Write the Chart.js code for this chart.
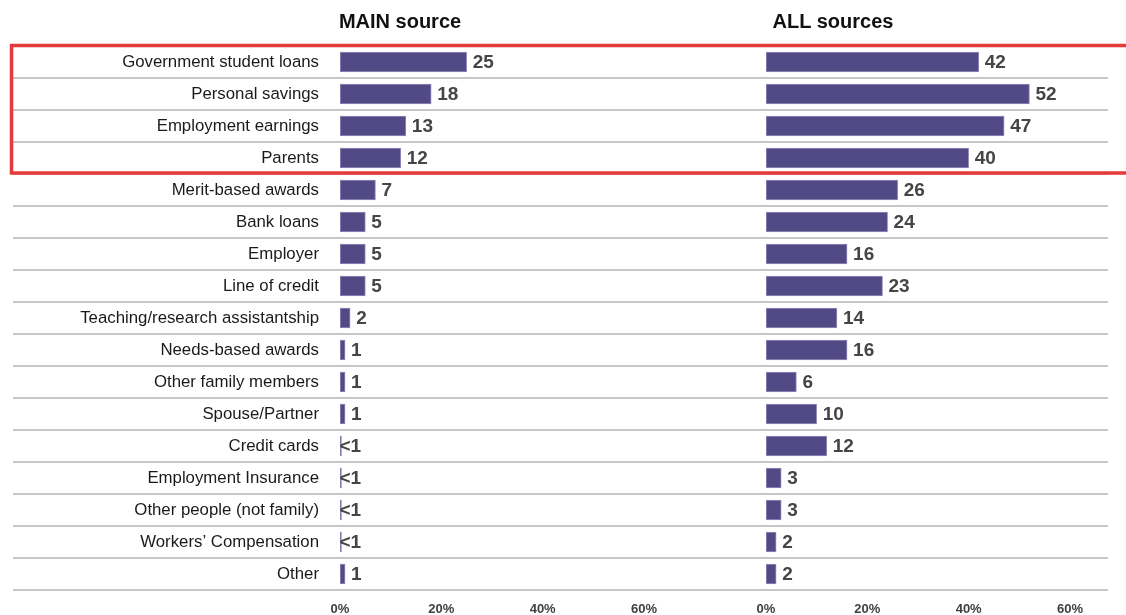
<!DOCTYPE html>
<html>
<head>
<meta charset="utf-8">
<script src="https://cdn.jsdelivr.net/npm/chart.js@4/dist/chart.umd.min.js"></script>
<style>
  html, body { margin: 0; padding: 0; background: #ffffff; }
  #wrap { position: relative; width: 1126px; height: 615px; overflow: hidden; }
  #wrap canvas { position: absolute; left: 0; top: 0; }
  .title {
    position: absolute; top: 8px; width: 240px; margin-left: -120px;
    text-align: center; font: bold 20px "Liberation Sans", Arial, sans-serif;
    color: #111111; line-height: 26px;
  }
</style>
</head>
<body>
<div id="wrap">
  <canvas id="mainChart" width="1126" height="615"></canvas>
  <canvas id="allChart" width="1126" height="615"></canvas>
  <div class="title" style="left:400px">MAIN source</div>
  <div class="title" style="left:833px">ALL sources</div>
</div>
<script>
// Sources of funding, share of respondents (%)
const categories = [
  'Government student loans', 'Personal savings', 'Employment earnings', 'Parents',
  'Merit-based awards', 'Bank loans', 'Employer', 'Line of credit',
  'Teaching/research assistantship', 'Needs-based awards', 'Other family members',
  'Spouse/Partner', 'Credit cards', 'Employment Insurance', 'Other people (not family)',
  'Workers\u2019 Compensation', 'Other'
];
// Printed labels for the main source; "<1" rows are drawn as a sliver
const mainLabels = ['25', '18', '13', '12', '7', '5', '5', '5', '2', '1', '1', '1', '<1', '<1', '<1', '<1', '1'];
const mainValues = [25, 18, 13, 12, 7, 5, 5, 5, 2, 1, 1, 1, 0.3, 0.3, 0.3, 0.3, 1];
const allValues = [42, 52, 47, 40, 26, 24, 16, 23, 14, 16, 6, 10, 12, 3, 3, 2, 2];
const allLabels = allValues.map(String);
const xTicks = [0, 20, 40, 60];
const highlightedRows = 4; // first rows boxed in red

const FONT = '"Liberation Sans", Arial, sans-serif';
const BAR = '#524a86';

// Value labels to the right of each bar
function valueLabels(texts) {
  return {
    id: 'valueLabels',
    afterDatasetsDraw(chart) {
      const ctx = chart.ctx;
      const meta = chart.getDatasetMeta(0);
      ctx.save();
      ctx.font = 'bold 19px ' + FONT;
      ctx.fillStyle = '#454545';
      ctx.textBaseline = 'middle';
      ctx.textAlign = 'left';
      meta.data.forEach((bar, i) => {
        const t = texts[i];
        const gap = t.startsWith('<') ? -2 : 6;
        ctx.fillText(t, bar.x + gap, bar.y + 1);
      });
      ctx.restore();
    }
  };
}

// Row separators across both panels and the highlight box
const rowFrame = {
  id: 'rowFrame',
  beforeDatasetsDraw(chart) {
    const y = chart.scales.y;
    const ctx = chart.ctx;
    ctx.save();
    ctx.strokeStyle = '#c9c6c9';
    ctx.lineWidth = 2;
    for (let i = 0; i <= categories.length; i++) {
      const py = Math.round(y.getPixelForValue(i - 0.5));
      ctx.beginPath();
      ctx.moveTo(13, py);
      ctx.lineTo(1108, py);
      ctx.stroke();
    }
    ctx.restore();
  },
  afterDraw(chart) {
    const y = chart.scales.y;
    const ctx = chart.ctx;
    const top = y.getPixelForValue(-0.5) - 0.5;
    const bottom = y.getPixelForValue(highlightedRows - 0.5) - 1;
    ctx.save();
    ctx.strokeStyle = '#e53a3a';
    ctx.lineWidth = 3.5;
    ctx.strokeRect(11.5, top, 1200, bottom - top);
    ctx.restore();
  }
};

function xScale() {
  return {
    type: 'linear',
    min: 0,
    max: 60,
    afterBuildTicks(scale) { scale.ticks = xTicks.map(v => ({ value: v })); },
    afterFit(scale) { scale.height = 25; scale.paddingLeft = 0; scale.paddingRight = 0; },
    grid: { display: false, drawTicks: false },
    border: { display: false },
    ticks: {
      padding: 12,
      color: '#404040',
      font: { family: FONT, size: 13, weight: 'bold' },
      callback: v => v + '%'
    }
  };
}

function dataset(values) {
  return {
    data: values,
    backgroundColor: BAR,
    borderColor: 'rgba(138,130,178,0.9)',
    borderWidth: 1,
    borderSkipped: false,
    barThickness: 20
  };
}

const common = {
  indexAxis: 'y',
  responsive: false,
  animation: false,
  plugins: { legend: { display: false }, tooltip: { enabled: false } }
};

new Chart(document.getElementById('mainChart'), {
  type: 'bar',
  data: { labels: categories, datasets: [dataset(mainValues)] },
  options: Object.assign({}, common, {
    layout: { padding: { top: 46, left: 0, right: 482, bottom: 0 } },
    scales: {
      x: xScale(),
      y: {
        type: 'category',
        afterFit(scale) { scale.width = 340; scale.paddingTop = 0; scale.paddingBottom = 0; },
        grid: { display: false, drawTicks: false },
        border: { display: false },
        ticks: {
          padding: 21,
          color: '#1a1a1a',
          font: { family: FONT, size: 16.8 }
        }
      }
    }
  }),
  plugins: [rowFrame, valueLabels(mainLabels)]
});

new Chart(document.getElementById('allChart'), {
  type: 'bar',
  data: { labels: categories, datasets: [dataset(allValues)] },
  options: Object.assign({}, common, {
    layout: { padding: { top: 46, left: 766, right: 56, bottom: 0 } },
    scales: {
      x: xScale(),
      y: { type: 'category', display: false }
    }
  }),
  plugins: [valueLabels(allLabels)]
});
</script>
</body>
</html>
